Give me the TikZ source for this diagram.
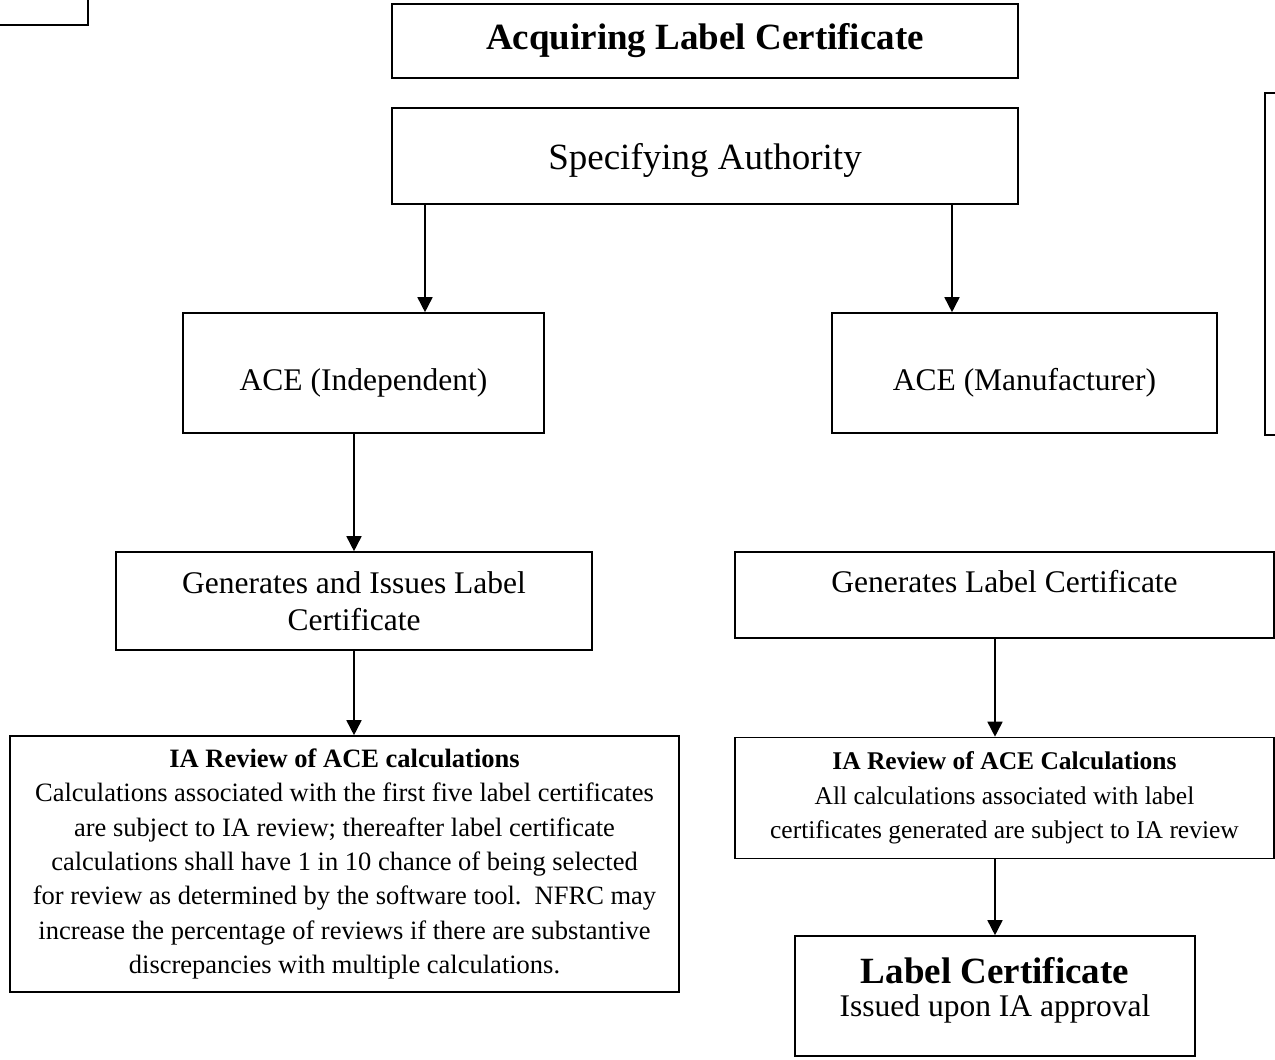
\documentclass[tikz,border=0pt]{standalone}
\usepackage{fontspec}
\setmainfont{Liberation Serif}
\usetikzlibrary{arrows.meta}

\tikzset{
  box/.style={draw,line width=1.6pt,rectangle,inner sep=0pt,align=center},
  flow/.style={line width=1.6pt,-{Triangle[length=15pt,width=15pt]}},
  bigtxt/.style={font=\fontsize{37}{44}\selectfont},
  midtxt/.style={font=\fontsize{31.5}{37.5}\selectfont},
  smalltxt/.style={font=\fontsize{26.5}{34.3}\selectfont},
  rsmalltxt/.style={font=\fontsize{25.5}{34.3}\selectfont}
}

\begin{document}
\begin{tikzpicture}[x=1pt,y=-1pt]
\useasboundingbox (0,0) rectangle (1275,1060);
\clip (0,0) rectangle (1275,1060);
% boxes running off the page
\draw[line width=1.6pt] (-5,25) -- (88,25) -- (88,-5);
\draw[line width=1.6pt] (1285,93) -- (1265,93) -- (1265,435) -- (1285,435);
% top
\node[box,bigtxt,minimum width=626,minimum height=74] (title) at (705,41) {\bfseries Acquiring Label Certificate};
\node[box,minimum width=626,minimum height=96] (spec) at (705,156) {};
\node[bigtxt] (spectxt) at (705,160) {Specifying Authority};
% ACE boxes
\node[box,minimum width=361,minimum height=120] (aceind) at (363.5,373) {};
\node[midtxt] (aceindtxt) at (363.5,383) {ACE (Independent)};
\node[box,minimum width=385,minimum height=120] (aceman) at (1024.5,373) {};
\node[midtxt] (acemantxt) at (1024.5,383) {ACE (Manufacturer)};
% label certificates
\node[box,midtxt,minimum width=476,minimum height=98] (genind) at (354,601) {Generates and Issues Label\\Certificate};
\node[box,minimum width=539,minimum height=86] (genman) at (1004.5,595) {};
\node[midtxt] (genmantxt) at (1004.5,582) {Generates Label Certificate};
% IA review
\node[box,smalltxt,minimum width=669,minimum height=256] (iaind) at (344.5,864) {\textbf{IA Review of ACE calculations}\\
Calculations associated with the first five label certificates\\
are subject to IA review; thereafter label certificate\\
calculations shall have 1 in 10 chance of being selected\\
for review as determined by the software tool.\ \ NFRC may\\
increase the percentage of reviews if there are substantive\\
discrepancies with multiple calculations.};
\node[box,rsmalltxt,minimum width=539,minimum height=121] (iaman) at (1004.5,798) {\textbf{IA Review of ACE Calculations}\\
All calculations associated with label\\
certificates generated are subject to IA review};
\node[box,minimum width=400,minimum height=120] (label) at (995,996) {};
\node[bigtxt] (labeltitle) at (995,971) {\bfseries Label Certificate};
\node[midtxt] (labelsub) at (995,1009) {Issued upon IA approval};
% arrows
\draw[flow] ([xshift=-280]spec.south) -- ([xshift=-280]spec.south |- aceind.north);
\draw[flow] ([xshift=247]spec.south) -- ([xshift=247]spec.south |- aceman.north);
\draw[flow] (aceind.south -| genind.north) -- (genind.north);
\draw[flow] (genind.south) -- (genind.south |- iaind.north);
\draw[flow] (genman.south -| label.north) -- (iaman.north -| label.north);
\draw[flow] (iaman.south -| label.north) -- (label.north);
\end{tikzpicture}
\end{document}
